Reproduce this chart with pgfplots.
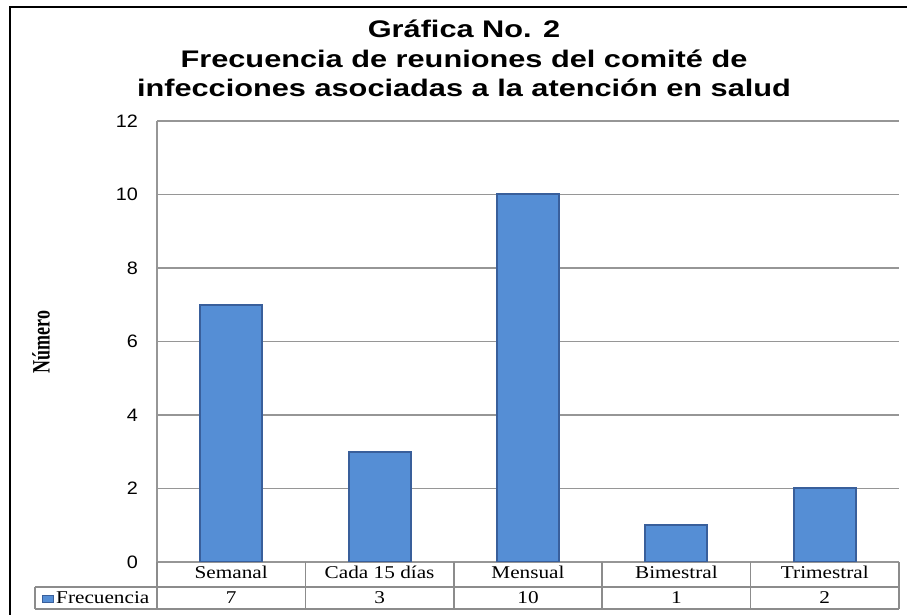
\documentclass[border=0pt]{standalone}
\usepackage{fontspec}
\setmainfont{Liberation Serif}
\newfontfamily\titlefont{Liberation Sans}[FakeStretch=1.28]
\newfontfamily\tickfont{Liberation Sans}[FakeStretch=1.1]
\newfontfamily\catfont{Liberation Serif}[FakeStretch=1.18]
\newfontfamily\labfont{Liberation Serif}[FakeStretch=0.72]
\usepackage{pgfplots}
\pgfplotsset{compat=1.18}
\usepackage{pgfplotstable}

\definecolor{barfill}{RGB}{85,142,213}
\definecolor{baredge}{RGB}{57,95,155}
\definecolor{gridgray}{RGB}{150,150,150}
\definecolor{tablegray}{RGB}{140,140,140}

\pgfplotstableread{
x y
0 7
1 3
2 10
3 1
4 2
}\frecuencia

\begin{document}
\begin{tikzpicture}[x=1pt,y=1pt]
\useasboundingbox (0,0) rectangle (907,615);
% marco exterior
\draw[line width=2pt] (9.5,-5) -- (9.5,608) -- (915,608);

% titulo
\begin{scope}[every node/.style={anchor=base, font=\titlefont\bfseries\fontsize{24}{29}\selectfont}]
  \node at (464,577) {Gráfica No. 2};
  \node at (464,547) {Frecuencia de reuniones del comité de};
  \node at (464,518) {infecciones asociadas a la atención en salud};
\end{scope}

\node[rotate=90, font=\labfont\bfseries\fontsize{25}{25}\selectfont] at (41,273) {Número};

\begin{axis}[
    at={(157pt,53pt)}, anchor=south west,
    scale only axis, width=742pt, height=441pt,
    ybar, bar width=62pt, bar shift=0pt,
    xmin=-0.5, xmax=4.5, ymin=0, ymax=12,
    xtick={0,1,2,3,4},
    xticklabels={Semanal, Cada 15 días, Mensual, Bimestral, Trimestral},
    ytick={0,2,...,12},
    major tick length=0pt,
    axis lines=left,
    axis line style={-, gridgray, line width=1.5pt},
    ymajorgrids,
    grid style={gridgray, line width=1.5pt},
    /pgf/number format/assume math mode=true,
    yticklabel style={font=\tickfont\fontsize{18}{18}\selectfont, anchor=east, inner sep=0pt, xshift=-19pt},
    xticklabel style={font=\catfont\fontsize{18}{18}\selectfont, anchor=base, inner sep=0pt, yshift=-17pt},
]
\addplot[fill=barfill, draw=baredge, line width=2pt] table[x=x, y=y] {\frecuencia};
% fila de valores de la tabla
\addplot[draw=none, fill=none, nodes near coords, point meta=explicit,
    every node near coord/.append style={font=\catfont\fontsize{18}{18}\selectfont, anchor=base, inner sep=0pt, yshift=-42pt}]
    table[x=x, y expr=0, meta=y] {\frecuencia};
\end{axis}

% tabla de datos
\begin{scope}[tablegray, line width=1.5pt]
  \draw (35,28) -- (899,28);
  \draw (35,6) -- (899,6);
  \draw (35,28) -- (35,6);
  \foreach \xb in {157,305.4,453.8,602.2,750.6,899}
    \draw (\xb,53) -- (\xb,6);
\end{scope}
\draw[baredge, fill=barfill, line width=0.8pt] (42.5,12.5) rectangle (53.5,19.5);
\node[anchor=base west, inner sep=0pt, font=\catfont\fontsize{18}{18}\selectfont] at (56,11) {Frecuencia};
\end{tikzpicture}
\end{document}
